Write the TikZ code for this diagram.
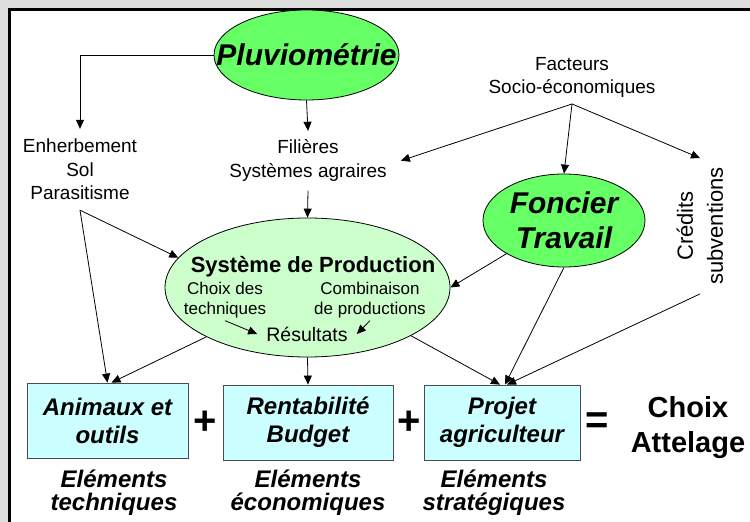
\documentclass[tikz,border=0pt]{standalone}
\usepackage{fontspec}
\setmainfont{Liberation Sans}
\usetikzlibrary{shapes.geometric,arrows.meta}
\definecolor{fondgris}{RGB}{222,222,222}
\definecolor{vertvif}{RGB}{102,255,102}
\definecolor{vertpale}{RGB}{204,255,204}
\definecolor{cyanpale}{RGB}{204,255,255}
\begin{document}
\begin{tikzpicture}[x=1pt, y=-1pt,
    fleche/.style={-{Triangle[length=9pt,width=8pt]}, line width=0.8pt},
    bulle/.style={ellipse, draw, line width=0.8pt, inner sep=0pt},
    boite/.style={draw=black!70, line width=0.8pt, fill=cyanpale, inner sep=0pt,
        minimum height=75pt, align=center, font=\fontsize{24}{28}\selectfont\bfseries\itshape},
    texte/.style={align=center, font=\fontsize{19}{23.5}\selectfont},
    petit/.style={align=center, inner sep=2pt, font=\fontsize{17}{20}\selectfont},
    elem/.style={align=center, font=\fontsize{24}{23}\selectfont\bfseries\itshape},
    signe/.style={inner sep=0pt, font=\fontsize{40}{40}\selectfont\bfseries}]

    % Fond et cadre
    \useasboundingbox (0,0) rectangle (750,522);
    \clip (0,0) rectangle (750,522);
    \fill[fondgris] (0,0) rectangle (750,522);
    \draw[line width=3pt, fill=white] (9,9) rectangle (780,550);

    % Facteurs du milieu
    \node[bulle, fill=vertvif, minimum width=185pt, minimum height=90pt,
        label={[font=\fontsize{30}{35}\selectfont\bfseries\itshape]center:Pluviométrie}] (pluv) at (306.5,55) {};
    \node[texte, inner ysep=10pt] (enh) at (80,169.5) {Enherbement\\Sol\\Parasitisme};
    \node[texte, inner xsep=14pt, inner ysep=9pt] (fil) at (308,160.7) {Filières\\Systèmes agraires};
    \node[texte, inner ysep=6pt] (fac) at (572,77.5) {Facteurs\\Socio-économiques};
    \node[bulle, fill=vertvif, minimum width=162pt, minimum height=93pt,
        label={[align=center, font=\fontsize{30}{35}\selectfont\bfseries\itshape]center:Foncier\\Travail}] (fon) at (564,220.5) {};
    \node[align=center, rotate=90, inner sep=9pt, font=\fontsize{22}{30}\selectfont] (cred) at (700,226) {Crédits\\subventions};

    % Système de production
    \node[bulle, fill=vertpale, minimum width=285pt, minimum height=139pt] (sys) at (307.5,287.5) {};
    \node[anchor=base, font=\fontsize{22}{26}\selectfont\bfseries] (titre) at (313,272) {Système de Production};
    \node[petit] (choix) at (225,300.5) {Choix des\\techniques};
    \node[petit] (comb) at (370,300.5) {Combinaison\\de productions};
    \node[inner xsep=9pt, inner ysep=2pt, font=\fontsize{19.5}{23}\selectfont] (res) at (307,334) {Résultats};
    \draw[fleche] (choix.south) -- (res.west);
    \draw[fleche] (comb.south) -- (res.east);

    % Elements du choix
    \node[boite, minimum width=161pt] (anim) at (107.5,420.5) {Animaux et\\outils};
    \node[boite, minimum width=170pt] (rent) at (308,422.5) {Rentabilité\\Budget};
    \node[boite, minimum width=156pt] (proj) at (502,422.5) {Projet\\agriculteur};
    \node[signe] (plusa) at (205,423) {+};
    \node[signe] (plusb) at (409,423) {+};
    \node[signe] (egal) at (597,423) {=};
    \node[align=center, font=\fontsize{29}{35}\selectfont\bfseries] (choixatt) at (688,428) {Choix\\Attelage};
    \node[elem] (etech) at (114,493) {Eléments\\techniques};
    \node[elem] (eeco) at (308,493) {Eléments\\économiques};
    \node[elem] (estrat) at (494,493) {Eléments\\stratégiques};

    % Fleches
    \draw[fleche] (pluv.west) -| (enh.north);
    \draw[fleche] (pluv.south) -- (fil.north);
    \draw[fleche] (fac.south) -- (fil.east);
    \draw[fleche] (fac.south) -- (fon.north);
    \draw[fleche] (fac.south) -- (cred.east);
    \draw[fleche] (enh.south) -- (sys.167);
    \draw[fleche] (enh.south) -- (anim.north);
    \draw[fleche] (fil.south) -- (sys.north);
    \draw[fleche] (sys.206) -- ([xshift=4pt]anim.north);
    \draw[fleche] (sys.south) -- (rent.north);
    \draw[fleche] (sys.-25) -- ([xshift=-2pt]proj.north);
    \draw[fleche] (fon.south) -- ([xshift=3pt]proj.north);
    \draw[fleche] (fon.210) -- (sys.east);
    \draw[fleche] (cred.west) -- ([xshift=5pt]proj.north);
\end{tikzpicture}
\end{document}
